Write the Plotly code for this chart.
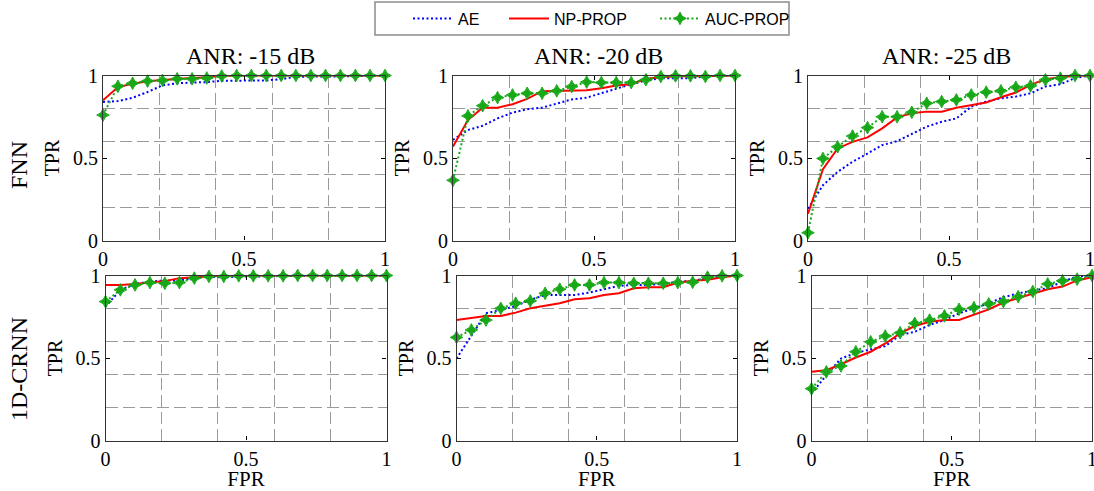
import plotly.graph_objects as go

W, H = 1094, 491

# ---------------- data ----------------
FPR = [0, 0.053, 0.105, 0.158, 0.211, 0.263, 0.316, 0.368, 0.421, 0.474,
       0.526, 0.579, 0.632, 0.684, 0.737, 0.789, 0.842, 0.895, 0.947, 1.0]

series_names = ["AE", "NP-PROP", "AUC-PROP"]
col_titles = ["ANR: -15 dB", "ANR: -20 dB", "ANR: -25 dB"]
row_labels = ["FNN", "1D-CRNN"]
tick_vals = [0, 0.5, 1]
tick_text = ["0", "0.5", "1"]

# FNN, ANR -15 dB
fnn15_ae = [0.84, 0.845, 0.865, 0.90, 0.94, 0.953, 0.957, 0.96, 0.968, 0.97,
            0.97, 0.97, 0.978, 0.992, 0.994, 0.994, 0.994, 0.995, 0.999, 1.0]
fnn15_np = [0.85, 0.93, 0.95, 0.965, 0.972, 0.98, 0.985, 0.99, 0.998, 1.0,
            1.0, 1.0, 1.0, 1.0, 1.0, 1.0, 1.0, 1.0, 1.0, 1.0]
fnn15_auc = [0.76, 0.935, 0.953, 0.966, 0.97, 0.98, 0.98, 0.985, 0.997, 1.0,
             1.0, 1.0, 1.0, 1.0, 1.0, 1.0, 1.0, 1.0, 1.0, 1.0]

# FNN, ANR -20 dB
fnn20_ae = [0.61, 0.67, 0.695, 0.74, 0.775, 0.795, 0.805, 0.83, 0.855, 0.866,
            0.892, 0.923, 0.947, 0.97, 0.984, 0.984, 0.984, 0.994, 1.0, 1.0]
fnn20_np = [0.57, 0.73, 0.805, 0.805, 0.826, 0.858, 0.905, 0.907, 0.907, 0.91,
            0.923, 0.939, 0.947, 0.98, 0.99, 0.995, 0.995, 0.995, 0.998, 1.0]
fnn20_auc = [0.365, 0.755, 0.817, 0.866, 0.882, 0.892, 0.892, 0.907, 0.933, 0.96,
             0.957, 0.957, 0.957, 0.974, 0.994, 0.998, 0.998, 0.994, 1.0, 1.0]

# FNN, ANR -25 dB
fnn25_ae = [0.193, 0.335, 0.416, 0.477, 0.527, 0.578, 0.602, 0.645, 0.69, 0.72,
            0.74, 0.811, 0.842, 0.862, 0.872, 0.892, 0.933, 0.947, 0.984, 1.0]
fnn25_np = [0.162, 0.432, 0.558, 0.598, 0.625, 0.68, 0.746, 0.771, 0.781, 0.781,
            0.805, 0.822, 0.836, 0.868, 0.897, 0.943, 0.978, 0.99, 0.998, 1.0]
fnn25_auc = [0.047, 0.497, 0.568, 0.633, 0.684, 0.75, 0.75, 0.777, 0.832, 0.842,
             0.852, 0.882, 0.899, 0.907, 0.929, 0.937, 0.974, 0.984, 1.0, 1.0]

# 1D-CRNN, ANR -15 dB
crnn15_ae = [0.811, 0.913, 0.949, 0.963, 0.97, 0.97, 0.984, 0.994, 0.988, 0.994,
             0.994, 0.994, 0.998, 0.998, 1.0, 1.0, 1.0, 1.0, 1.0, 1.0]
crnn15_np = [0.943, 0.943, 0.949, 0.957, 0.966, 0.984, 0.99, 0.998, 1.0, 1.0,
             1.0, 1.0, 1.0, 1.0, 1.0, 1.0, 1.0, 1.0, 1.0, 1.0]
crnn15_auc = [0.842, 0.913, 0.943, 0.957, 0.953, 0.957, 0.984, 0.994, 0.994, 0.998,
              0.998, 0.998, 0.998, 1.0, 1.0, 1.0, 1.0, 1.0, 1.0, 1.0]

# 1D-CRNN, ANR -20 dB
crnn20_ae = [0.497, 0.639, 0.771, 0.791, 0.815, 0.852, 0.882, 0.882, 0.882, 0.897,
             0.917, 0.937, 0.943, 0.943, 0.949, 0.963, 0.968, 0.984, 0.998, 1.0]
crnn20_np = [0.73, 0.744, 0.755, 0.755, 0.775, 0.801, 0.815, 0.832, 0.856, 0.862,
             0.882, 0.892, 0.923, 0.929, 0.929, 0.957, 0.968, 0.974, 0.99, 1.0]
crnn20_auc = [0.625, 0.67, 0.73, 0.801, 0.832, 0.846, 0.892, 0.917, 0.943, 0.943,
              0.957, 0.957, 0.953, 0.953, 0.953, 0.957, 0.959, 0.99, 0.998, 1.0]

# 1D-CRNN, ANR -25 dB
crnn25_ae = [0.284, 0.396, 0.497, 0.531, 0.552, 0.572, 0.639, 0.659, 0.70, 0.73,
             0.771, 0.801, 0.832, 0.868, 0.892, 0.909, 0.923, 0.963, 0.994, 1.0]
crnn25_np = [0.416, 0.426, 0.462, 0.503, 0.538, 0.588, 0.649, 0.694, 0.72, 0.73,
             0.73, 0.761, 0.795, 0.836, 0.862, 0.892, 0.917, 0.933, 0.97, 0.99]
crnn25_auc = [0.314, 0.416, 0.452, 0.538, 0.598, 0.633, 0.653, 0.71, 0.73, 0.755,
              0.795, 0.805, 0.828, 0.842, 0.872, 0.903, 0.949, 0.968, 0.978, 1.0]

panels = [
    [(fnn15_ae, fnn15_np, fnn15_auc), (fnn20_ae, fnn20_np, fnn20_auc), (fnn25_ae, fnn25_np, fnn25_auc)],
    [(crnn15_ae, crnn15_np, crnn15_auc), (crnn20_ae, crnn20_np, crnn20_auc), (crnn25_ae, crnn25_np, crnn25_auc)],
]

# ---------------- layout geometry (pixels) ----------------
col_px = [
    [(103, 385), (453, 735), (808, 1090)],
    [(105.5, 386.5), (456.5, 737), (811.5, 1092)],
]
row_px = [(75.5, 240.5), (275.5, 440.5)]

SERIF = "Liberation Serif, Times New Roman, serif"
SANS = "Liberation Sans, Arial, sans-serif"

styles = [
    dict(mode="lines", line=dict(color="#0000ff", width=2, dash="2px,2.5px")),
    dict(mode="lines", line=dict(color="#ff0000", width=2)),
    dict(mode="lines+markers", line=dict(color="#16a816", width=2, dash="2px,2.5px"),
         marker=dict(symbol="star-diamond", size=9, color="#16a816",
                     line=dict(color="#16a816", width=1))),
]
legend_widths = [41, 96, 90]

fig = go.Figure()
layout = dict(
    width=W, height=H,
    margin=dict(l=0, r=0, t=0, b=0, pad=0, autoexpand=False),
    paper_bgcolor="white", plot_bgcolor="white",
    showlegend=True,
    font=dict(family=SERIF, size=20, color="black"),
)

idx = 0
for r in range(2):
    for c in range(3):
        idx += 1
        sfx = "" if idx == 1 else str(idx)
        x0, x1 = col_px[r][c]
        y0, y1 = row_px[r]
        common = dict(
            range=[0, 1], tickvals=tick_vals, ticktext=tick_text,
            ticks="inside", ticklen=4, tickcolor="black", tickwidth=1,
            showline=True, linecolor="#333333", linewidth=1.2, mirror="ticks",
            showgrid=False, zeroline=False, automargin=False,
            ticklabeloverflow="allow",
            tickfont=dict(family=SERIF, size=20, color="black"),
            minor=dict(tick0=0, dtick=0.2, showgrid=True, gridcolor="#9a9a9a",
                       gridwidth=1, griddash="12px,5px", ticks=""),
        )
        xa = dict(common, domain=[x0 / W, x1 / W], anchor="y" + sfx)
        ya = dict(common, domain=[1 - y1 / H, 1 - y0 / H], anchor="x" + sfx,
                  title=dict(text="TPR", font=dict(family=SERIF, size=20), standoff=7))
        if r == 1:
            xa["title"] = dict(text="FPR", font=dict(family=SERIF, size=21), standoff=4)
        layout["xaxis" + sfx] = xa
        layout["yaxis" + sfx] = ya
        for k, ys in enumerate(panels[r][c]):
            fig.add_trace(go.Scatter(
                x=FPR, y=ys, name=series_names[k], xaxis="x" + sfx, yaxis="y" + sfx,
                showlegend=(idx == 1), legendwidth=legend_widths[k],
                cliponaxis=False, hoverinfo="skip", **styles[k]))

annotations = []
title_x = [250, 598, 946]
for c in range(3):
    annotations.append(dict(text=col_titles[c], x=title_x[c] / W, y=1 - 71 / H,
                            xref="paper", yref="paper", xanchor="center", yanchor="bottom",
                            showarrow=False, font=dict(family=SERIF, size=24, color="black")))
row_y = [165, 369]
for r in range(2):
    annotations.append(dict(text=row_labels[r], x=19 / W, y=1 - row_y[r] / H,
                            xref="paper", yref="paper", xanchor="center", yanchor="middle",
                            textangle=-90, showarrow=False,
                            font=dict(family=SERIF, size=24, color="black")))
layout["annotations"] = annotations

layout["shapes"] = [dict(type="rect", xref="paper", yref="paper",
                         x0=375 / W, x1=789 / W, y0=1 - 35 / H, y1=1 - 2 / H,
                         line=dict(color="#8c8c8c", width=1.5), fillcolor="rgba(0,0,0,0)",
                         layer="above")]
layout["legend"] = dict(orientation="h", x=408 / W, xanchor="left", y=1 - 18.5 / H,
                        yanchor="middle", bgcolor="rgba(0,0,0,0)", borderwidth=0,
                        itemwidth=40, font=dict(family=SANS, size=16, color="black"),
                        tracegroupgap=0)

fig.update_layout(**layout)
fig.write_html("out.html", config={"displayModeBar": False},
               post_script="document.body.style.margin='0';document.body.style.overflow='hidden';")
